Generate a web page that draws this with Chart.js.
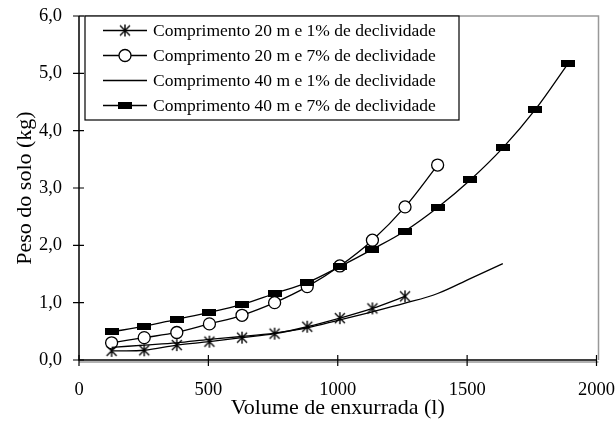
<!DOCTYPE html>
<html>
<head>
<meta charset="utf-8">
<script src="https://cdn.jsdelivr.net/npm/chart.js@4"></script>
<style>
  body { margin: 0; background: #fff; }
  #wrap { width: 615px; height: 438px; }
</style>
</head>
<body>
<div id="wrap"><canvas id="chart"></canvas></div>
<script>
// volume de enxurrada (l), pontos a cada 126 l
const xVolume = [126, 252, 378, 504, 630, 756, 882, 1008, 1134, 1260, 1386, 1512, 1638, 1764, 1890];

const labels = [
    "Comprimento 20 m e 1% de declividade",
    "Comprimento 20 m e 7% de declividade",
    "Comprimento 40 m e 1% de declividade",
    "Comprimento 40 m e 7% de declividade"
];

const c20d1 = [0.16, 0.17, 0.26, 0.32, 0.39, 0.46, 0.58, 0.73, 0.90, 1.11];
const c20d7 = [0.30, 0.39, 0.48, 0.63, 0.78, 1.00, 1.28, 1.64, 2.09, 2.67, 3.40];
const c40d1 = [0.22, 0.26, 0.30, 0.36, 0.41, 0.47, 0.56, 0.70, 0.84, 0.99, 1.16, 1.42, 1.68];
const c40d7 = [0.49, 0.59, 0.71, 0.83, 0.97, 1.16, 1.35, 1.63, 1.93, 2.25, 2.66, 3.14, 3.70, 4.37, 5.17];

const xTicks = [0, 500, 1000, 1500, 2000];
const yTicks = [0, 1, 2, 3, 4, 5, 6];

const toPoints = arr => arr.map((v, i) => ({ x: xVolume[i], y: v }));

// marcadores
function starMarker() {
    const c = document.createElement("canvas");
    c.width = 14; c.height = 14;
    const g = c.getContext("2d");
    g.strokeStyle = "#000";
    g.lineWidth = 1.4;
    g.beginPath();
    g.moveTo(7, 1); g.lineTo(7, 13);
    g.moveTo(2, 2); g.lineTo(12, 12);
    g.moveTo(12, 2); g.lineTo(2, 12);
    g.stroke();
    return c;
}

function rectMarker() {
    const c = document.createElement("canvas");
    c.width = 14; c.height = 7;
    const g = c.getContext("2d");
    g.fillStyle = "#000";
    g.fillRect(0, 0, 14, 7);
    return c;
}

const starImg = starMarker();
const rectImg = rectMarker();

const serif = "'Liberation Serif', 'Times New Roman', serif";

const frameAndLegend = {
    id: "frameAndLegend",
    afterDatasetsDraw(chart) {
        const ctx = chart.ctx;
        const a = chart.chartArea;
        const xs = chart.scales.x;
        const ys = chart.scales.y;
        ctx.save();

        // moldura
        ctx.strokeStyle = "#999";
        ctx.lineWidth = 1.5;
        ctx.beginPath();
        ctx.moveTo(a.left, a.top); ctx.lineTo(a.right + 2, a.top);
        ctx.lineTo(a.right + 2, a.bottom);
        ctx.moveTo(a.left, a.bottom + 2); ctx.lineTo(a.right + 2, a.bottom + 2);
        ctx.stroke();

        ctx.strokeStyle = "#000";
        ctx.lineWidth = 1.5;
        ctx.beginPath();
        ctx.moveTo(a.left, a.top); ctx.lineTo(a.left, a.bottom);
        ctx.lineTo(a.right, a.bottom);
        ctx.stroke();

        // marcas dos eixos
        ctx.lineWidth = 1.2;
        ctx.beginPath();
        xTicks.forEach(t => {
            const px = xs.getPixelForValue(t);
            ctx.moveTo(px, a.bottom - 5); ctx.lineTo(px, a.bottom + 6);
        });
        yTicks.forEach(t => {
            const py = ys.getPixelForValue(t);
            ctx.moveTo(a.left - 6, py); ctx.lineTo(a.left + 5, py);
        });
        ctx.stroke();

        // legenda
        const bx = 85, by = a.top, bw = 374, bh = 104;
        ctx.fillStyle = "#fff";
        ctx.fillRect(bx, by, bw, bh);
        ctx.strokeStyle = "#000";
        ctx.lineWidth = 1.2;
        ctx.strokeRect(bx, by, bw, bh);

        ctx.font = "17.5px " + serif;
        ctx.textBaseline = "middle";
        ctx.textAlign = "left";
        chart.data.datasets.forEach((ds, i) => {
            const ly = by + 14.5 + i * 25;
            ctx.strokeStyle = "#000";
            ctx.lineWidth = 1.3;
            ctx.beginPath();
            ctx.moveTo(103, ly); ctx.lineTo(147, ly);
            ctx.stroke();
            if (ds.pointStyle === "circle") {
                ctx.beginPath();
                ctx.arc(125, ly, 6, 0, Math.PI * 2);
                ctx.fillStyle = "#fff";
                ctx.fill();
                ctx.stroke();
            } else if (ds.pointStyle === starImg) {
                ctx.drawImage(starImg, 125 - 7, ly - 7);
            } else if (ds.pointStyle === rectImg) {
                ctx.drawImage(rectImg, 125 - 7, ly - 3.5);
            }
            ctx.fillStyle = "#000";
            ctx.fillText(ds.label, 153, ly + 1);
        });
        ctx.restore();
    }
};

const ctx = document.getElementById("chart").getContext("2d");

new Chart(ctx, {
    type: "line",
    data: {
        datasets: [{
            label: labels[0],
            data: toPoints(c20d1),
            borderColor: "#000",
            borderWidth: 1.3,
            pointStyle: starImg,
            tension: 0.35,
            order: 4
        }, {
            label: labels[1],
            data: toPoints(c20d7),
            borderColor: "#000",
            borderWidth: 1.3,
            pointStyle: "circle",
            pointRadius: 6,
            pointBorderColor: "#000",
            pointBorderWidth: 1.3,
            pointBackgroundColor: "#fff",
            tension: 0.35,
            order: 3
        }, {
            label: labels[2],
            data: toPoints(c40d1),
            borderColor: "#000",
            borderWidth: 1.3,
            pointRadius: 0,
            pointStyle: false,
            tension: 0.35,
            order: 2
        }, {
            label: labels[3],
            data: toPoints(c40d7),
            borderColor: "#000",
            borderWidth: 1.3,
            pointStyle: rectImg,
            tension: 0.35,
            order: 1
        }]
    },
    options: {
        responsive: true,
        maintainAspectRatio: false,
        animation: false,
        layout: { padding: { top: 16, right: 0, left: 0, bottom: 0 } },
        plugins: {
            legend: { display: false },
            tooltip: { enabled: false }
        },
        scales: {
            x: {
                type: "linear",
                min: 0,
                max: 2000,
                afterFit: s => { s.height = 78; },
                afterBuildTicks: s => { s.ticks = xTicks.map(v => ({ value: v })); },
                grid: { display: false, drawTicks: true, tickLength: 19 },
                border: { display: false },
                ticks: {
                    color: "#000",
                    font: { family: serif, size: 18.5 },
                    padding: 0,
                    maxRotation: 0,
                    callback: v => String(v)
                },
                title: {
                    display: true,
                    text: "Volume de enxurrada (l)",
                    color: "#000",
                    font: { family: serif, size: 22 },
                    padding: { top: 0, bottom: 17 }
                }
            },
            y: {
                min: 0,
                max: 6,
                afterFit: s => { s.width = 79; },
                afterBuildTicks: s => { s.ticks = yTicks.map(v => ({ value: v })); },
                grid: { display: false, drawTicks: true, tickLength: 17 },
                border: { display: false },
                ticks: {
                    color: "#000",
                    font: { family: serif, size: 18.5 },
                    padding: 0,
                    callback: v => v.toFixed(1).replace(".", ",")
                },
                title: {
                    display: true,
                    text: "Peso do solo (kg)",
                    color: "#000",
                    font: { family: serif, size: 22 },
                    padding: { top: 12, bottom: 0 }
                }
            }
        }
    },
    plugins: [frameAndLegend]
});
</script>
</body>
</html>
